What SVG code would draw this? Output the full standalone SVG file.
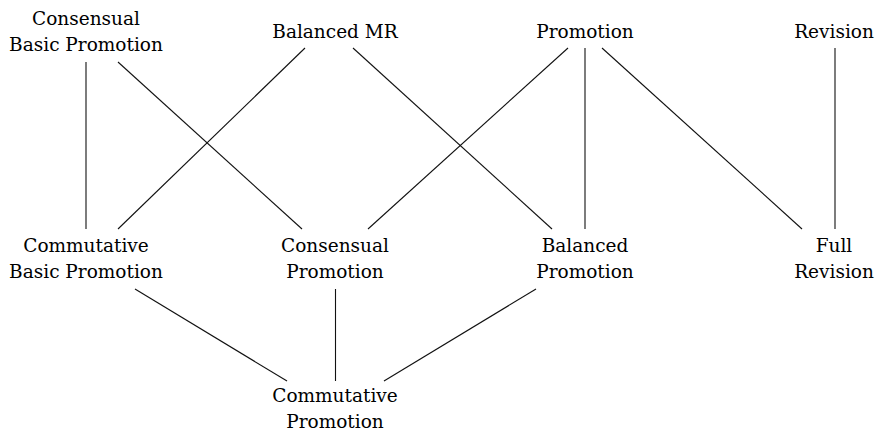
<svg xmlns="http://www.w3.org/2000/svg" width="879" height="435" viewBox="0 0 879 435">
<style>
text{font-family:"DejaVu Serif","Liberation Serif",serif;font-size:18.5px;fill:#000;text-anchor:middle}
#edges line{stroke:#111;stroke-width:1.1}
</style>
<rect width="879" height="435" fill="#fff"/>
<g id="edges">
<line x1="86" y1="62" x2="86" y2="229"/>
<line x1="118" y1="62" x2="302" y2="229"/>
<line x1="305" y1="48" x2="118" y2="229"/>
<line x1="353" y1="48" x2="552" y2="229"/>
<line x1="568" y1="48" x2="368" y2="229"/>
<line x1="585" y1="48" x2="585" y2="229"/>
<line x1="602" y1="48" x2="802" y2="229"/>
<line x1="835" y1="48" x2="835" y2="229"/>
<line x1="135" y1="289" x2="287" y2="381"/>
<line x1="335.5" y1="289" x2="335.5" y2="381"/>
<line x1="536" y1="289" x2="384" y2="381"/>
</g>
<g id="consensual-basic-promotion"><text x="86" y="25">Consensual</text><text x="86" y="51">Basic Promotion</text></g>
<g id="balanced-mr"><text x="335" y="38">Balanced MR</text></g>
<g id="promotion"><text x="585" y="38">Promotion</text></g>
<g id="revision"><text x="834" y="38">Revision</text></g>
<g id="commutative-basic-promotion"><text x="86" y="252">Commutative</text><text x="86" y="278">Basic Promotion</text></g>
<g id="consensual-promotion"><text x="335" y="252">Consensual</text><text x="335" y="278">Promotion</text></g>
<g id="balanced-promotion"><text x="585" y="252">Balanced</text><text x="585" y="278">Promotion</text></g>
<g id="full-revision"><text x="834" y="252">Full</text><text x="834" y="278">Revision</text></g>
<g id="commutative-promotion"><text x="335" y="402">Commutative</text><text x="335" y="428">Promotion</text></g>
</svg>
